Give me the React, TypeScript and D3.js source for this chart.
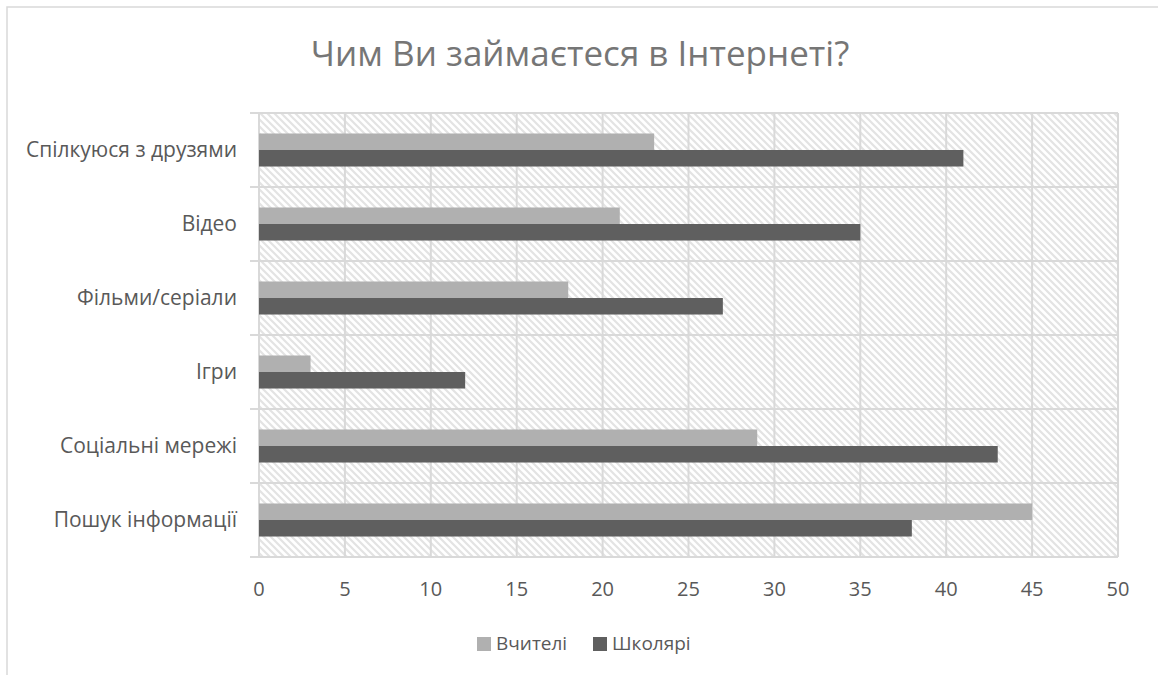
import React from "react";
import * as d3 from "d3";

const categories = [
  "Спілкуюся з друзями",
  "Відео",
  "Фільми/серіали",
  "Ігри",
  "Соціальні мережі",
  "Пошук інформації",
];
const teachers = [23, 21, 18, 3, 29, 45];
const pupils = [41, 35, 27, 12, 43, 38];
const seriesNames = ["Вчителі", "Школярі"];
const xTicks = [0, 5, 10, 15, 20, 25, 30, 35, 40, 45, 50];

const W = 1158;
const H = 675;
const plot = { left: 259, right: 1118, top: 113, bottom: 557 };
const colors = ["#b0b0b0", "#5f5f5f"];
const font = "'Open Sans', 'Segoe UI', sans-serif";

export default function App() {
  const x = d3.scaleLinear().domain([0, 50]).range([plot.left, plot.right]);
  const y = d3
    .scaleBand<string>()
    .domain(categories)
    .range([plot.top, plot.bottom]);
  const inner = d3
    .scaleBand<string>()
    .domain(seriesNames)
    .range([0, y.bandwidth()])
    .paddingOuter(1.24)
    .paddingInner(0);

  const series = [teachers, pupils];
  const bounds = categories.map((_, i) => plot.top + i * y.step());
  bounds.push(plot.bottom);

  return (
    <svg
      width={W}
      height={H}
      style={{ position: "absolute", left: 0, top: 0, background: "#fff" }}
    >
      <defs>
        <pattern
          id="hatch"
          patternUnits="userSpaceOnUse"
          width={7}
          height={7}
        >
          <rect width={7} height={7} fill="#ffffff" />
          <path
            d="M-2,-2 L9,9 M-2,5 L2,9 M5,-2 L9,2"
            stroke="#e3e3e3"
            strokeWidth={2.2}
          />
        </pattern>
      </defs>
      <rect x={7} y={7} width={W} height={H} fill="#fff" stroke="#d9d9d9" strokeWidth={1.5} />
      <text
        x={580}
        y={66}
        textAnchor="middle"
        fontFamily={font}
        fontSize={35}
        fill="#767676"
      >
        Чим Ви займаєтеся в Інтернеті?
      </text>

      <rect
        x={plot.left}
        y={plot.top}
        width={plot.right - plot.left}
        height={plot.bottom - plot.top}
        fill="url(#hatch)"
      />
      {xTicks.map((t) => (
        <line
          key={"v" + t}
          x1={x(t)}
          x2={x(t)}
          y1={plot.top}
          y2={plot.bottom}
          stroke="#d9d9d9"
          strokeWidth={2}
        />
      ))}
      {bounds.map((b, i) => (
        <line
          key={"h" + i}
          x1={plot.left - 9}
          x2={plot.right}
          y1={b}
          y2={b}
          stroke="#d9d9d9"
          strokeWidth={2}
        />
      ))}

      {categories.map((c, i) => (
        <g key={c}>
          {series.map((vals, s) => (
            <rect
              key={s}
              x={x(0)}
              y={(y(c) ?? 0) + (inner(seriesNames[s]) ?? 0)}
              width={x(vals[i]) - x(0)}
              height={inner.bandwidth()}
              fill={colors[s]}
            />
          ))}
          <text
            x={237}
            y={(y(c) ?? 0) + y.bandwidth() / 2 + 7}
            textAnchor="end"
            fontFamily={font}
            fontSize={21}
            fill="#595959"
          >
            {c}
          </text>
        </g>
      ))}

      {xTicks.map((t) => (
        <text
          key={"t" + t}
          x={x(t)}
          y={596}
          textAnchor="middle"
          fontFamily={font}
          fontSize={20}
          fill="#595959"
        >
          {t}
        </text>
      ))}

      {seriesNames.map((n, i) => {
        const lx = [477, 593][i];
        return (
          <g key={n}>
            <rect x={lx} y={637} width={14} height={14} fill={colors[i]} />
            <text
              x={lx + 19}
              y={650}
              fontFamily={font}
              fontSize={19}
              fill="#595959"
            >
              {n}
            </text>
          </g>
        );
      })}
    </svg>
  );
}
